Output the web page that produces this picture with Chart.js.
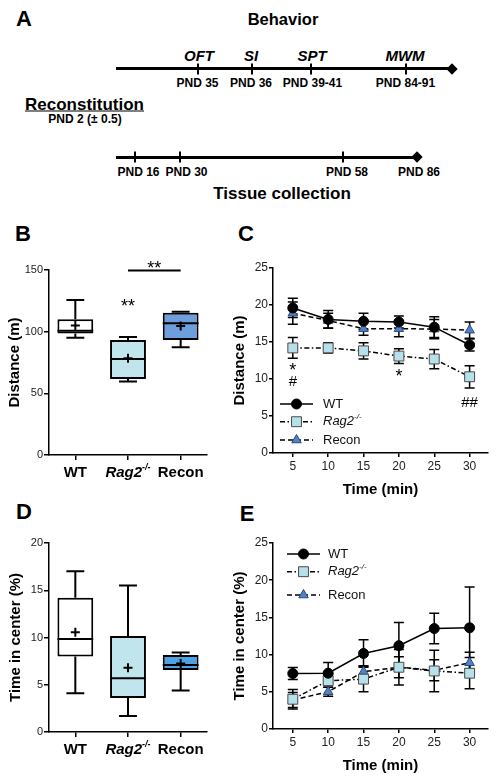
<!DOCTYPE html>
<html>
<head>
<meta charset="utf-8">
<script src="https://cdn.jsdelivr.net/npm/chart.js@4.4.1/dist/chart.umd.min.js"></script>
<style>
html, body { margin: 0; padding: 0; background: #fff; }
#fig { position: relative; width: 496px; height: 784px; overflow: hidden; font-family: Arial, "Liberation Sans", sans-serif; color: #000; }
.t { position: absolute; transform: translate(-50%, -50%); line-height: 1; white-space: nowrap; font-weight: bold; }
.hl { position: absolute; height: 3px; background: #000; }
.tk { position: absolute; width: 2px; height: 11px; background: #000; transform: translate(-50%, -50%); }
.dm { position: absolute; width: 8px; height: 8px; background: #000; transform: translate(-50%, -50%) rotate(45deg); }
canvas { position: absolute; }
</style>
</head>
<body>
<div id="fig">
  <!-- panel A: timeline -->
  <div class="t" style="left:24px;top:19px;font-size:22px">A</div>
  <div class="t" style="left:283px;top:19px;font-size:16.5px">Behavior</div>

  <div class="t" style="left:199px;top:55px;font-size:15px;font-style:italic">OFT</div>
  <div class="t" style="left:251px;top:55px;font-size:15px;font-style:italic">SI</div>
  <div class="t" style="left:312px;top:55px;font-size:15px;font-style:italic">SPT</div>
  <div class="t" style="left:405px;top:55px;font-size:15px;font-style:italic">MWM</div>

  <div class="hl" style="left:116px;top:67px;width:334px"></div>
  <div class="dm" style="left:452px;top:68.5px"></div>
  <div class="tk" style="left:198px;top:68.5px"></div>
  <div class="tk" style="left:252px;top:68.5px"></div>
  <div class="tk" style="left:311px;top:68.5px"></div>
  <div class="tk" style="left:405.5px;top:68.5px"></div>

  <div class="t" style="left:197.5px;top:83px;font-size:12px">PND 35</div>
  <div class="t" style="left:251px;top:83px;font-size:12px">PND 36</div>
  <div class="t" style="left:312.5px;top:83px;font-size:12px">PND 39-41</div>
  <div class="t" style="left:405.5px;top:83px;font-size:12px">PND 84-91</div>

  <div class="t" style="left:84.5px;top:104px;font-size:17px;text-decoration:underline">Reconstitution</div>
  <div class="t" style="left:85px;top:118.5px;font-size:12px">PND 2 (± 0.5)</div>

  <div class="hl" style="left:116px;top:155.5px;width:299px"></div>
  <div class="dm" style="left:417px;top:157px"></div>
  <div class="tk" style="left:135px;top:157px"></div>
  <div class="tk" style="left:180px;top:157px"></div>
  <div class="tk" style="left:342.5px;top:157px"></div>

  <div class="t" style="left:138.5px;top:171.5px;font-size:12px">PND 16</div>
  <div class="t" style="left:186.5px;top:171.5px;font-size:12px">PND 30</div>
  <div class="t" style="left:347px;top:171.5px;font-size:12px">PND 58</div>
  <div class="t" style="left:419px;top:171.5px;font-size:12px">PND 86</div>

  <div class="t" style="left:282px;top:193px;font-size:17px">Tissue collection</div>

  <!-- panel letters -->
  <div class="t" style="left:23px;top:234px;font-size:22px">B</div>
  <div class="t" style="left:246px;top:234px;font-size:22px">C</div>
  <div class="t" style="left:24px;top:512px;font-size:22px">D</div>
  <div class="t" style="left:247px;top:514px;font-size:22px">E</div>

  <canvas id="cB" width="215" height="223" style="left:0px;top:257px;width:215px;height:223px"></canvas>
  <canvas id="cC" width="270" height="245" style="left:226px;top:255px;width:270px;height:245px"></canvas>
  <canvas id="cD" width="215" height="227" style="left:0px;top:530px;width:215px;height:227px"></canvas>
  <canvas id="cE" width="270" height="246" style="left:226px;top:530px;width:270px;height:246px"></canvas>
</div>

<script>
const FONT = 'Arial, "Liberation Sans", sans-serif';

// ---- data ----
const groups = ['WT', 'Rag2-/-', 'Recon'];

// B: total distance (m), box plots
const distMin = [95, 59.5, 87.3];
const distQ1 = [98.6, 61.6, 93.2];
const distMedian = [100.8, 77.8, 106.8];
const distQ3 = [110, 93.2, 115.4];
const distMax = [125.7, 95.7, 116.2];
const distMean = [104.9, 78.4, 104.6];

// D: time in center (%), box plots
const centerMin = [4.1, 1.7, 4.4];
const centerQ1 = [8.0, 3.6, 6.55];
const centerMedian = [9.85, 5.7, 7.1];
const centerQ3 = [14.2, 10.15, 8.15];
const centerMax = [17.0, 15.5, 8.4];
const centerMean = [10.55, 6.8, 7.25];

// C / E: per 5-min bins
const timeBins = [5, 10, 15, 20, 25, 30];
const seriesNames = ['WT', 'Rag2-/-', 'Recon'];

const distWT = [19.6, 18.05, 17.8, 17.7, 17.0, 14.6];
const distWTErr = [1.3, 1.2, 1.1, 0.8, 1.4, 0.8];
const distRag2 = [14.2, 14.2, 13.8, 13.1, 12.7, 10.3];
const distRag2Err = [1.4, 0.7, 1.1, 1.0, 1.3, 1.5];
const distRecon = [18.9, 17.9, 16.8, 16.8, 16.75, 16.6];
const distReconErr = [1.5, 1.0, 0.9, 1.1, 1.3, 1.1];

const centerWT = [7.45, 7.5, 10.15, 11.2, 13.5, 13.6];
const centerWTErr = [0.8, 1.45, 1.85, 3.1, 2.05, 5.5];
const centerRag2 = [4.0, 6.5, 6.7, 8.3, 7.8, 7.5];
const centerRag2Err = [1.3, 0.9, 1.7, 2.4, 2.8, 2.1];
const centerRecon = [3.9, 5.0, 7.7, 8.3, 7.9, 8.9];
const centerReconErr = [1.0, 0.6, 0.8, 1.4, 1.4, 1.4];

// significance marks on C
const markX = [5, 5, 20, 30];
const markY = [11.7, 9.6, 10.8, 6.8];
const markText = ['*', '#', '*', '##'];

// significance on B
const sigRag2Y = 123.5;
const sigBracketY = 149.5;
const sigBracketTextY = 154;

Chart.defaults.font.family = FONT;
Chart.defaults.color = '#222';

// ---- helpers ----
function nameParts(name, size, weight) {
  if (name === 'Rag2-/-') {
    return [
      ['Rag2', 'italic ' + weight + ' ' + size + 'px ' + FONT, 0],
      ['-/-', 'italic ' + weight + ' ' + Math.round(size * 0.6) + 'px ' + FONT, -size * 0.38]
    ];
  }
  return [[name, weight + ' ' + size + 'px ' + FONT, 0]];
}

function richText(ctx, parts, x, y, align) {
  let w = 0;
  parts.forEach(p => { ctx.font = p[1]; w += ctx.measureText(p[0]).width; });
  let cx = align === 'left' ? x : x - w / 2;
  ctx.textAlign = 'left';
  ctx.textBaseline = 'middle';
  parts.forEach(p => {
    ctx.font = p[1];
    ctx.fillText(p[0], cx, y + p[2]);
    cx += ctx.measureText(p[0]).width;
  });
}

function makeBoxPlugin(s) {
  return {
    id: 'boxParts',
    afterDatasetsDraw(chart) {
      const { ctx } = chart;
      const xs = chart.scales.x, ys = chart.scales.y;
      const meta = chart.getDatasetMeta(0);
      const py = v => ys.getPixelForValue(v);
      ctx.save();
      ctx.strokeStyle = '#000';
      ctx.lineWidth = 2;
      s.min.forEach((_, i) => {
        const x = xs.getPixelForValue(i);
        const bw = meta.data[i].width;
        ctx.beginPath();
        ctx.moveTo(x, py(s.q3[i])); ctx.lineTo(x, py(s.max[i]));
        ctx.moveTo(x, py(s.q1[i])); ctx.lineTo(x, py(s.min[i]));
        ctx.moveTo(x - bw / 4, py(s.max[i])); ctx.lineTo(x + bw / 4, py(s.max[i]));
        ctx.moveTo(x - bw / 4, py(s.min[i])); ctx.lineTo(x + bw / 4, py(s.min[i]));
        ctx.moveTo(x - bw / 2, py(s.med[i])); ctx.lineTo(x + bw / 2, py(s.med[i]));
        ctx.stroke();
        const my = py(s.mean[i]);
        ctx.beginPath();
        ctx.moveTo(x - 4.5, my); ctx.lineTo(x + 4.5, my);
        ctx.moveTo(x, my - 4.5); ctx.lineTo(x, my + 4.5);
        ctx.stroke();
      });
      ctx.restore();
    }
  };
}

const groupLabelPlugin = {
  id: 'groupLabels',
  afterDraw(chart) {
    const { ctx } = chart;
    const xs = chart.scales.x;
    ctx.save();
    ctx.fillStyle = '#000';
    groups.forEach((g, i) => {
      richText(ctx, nameParts(g, 15, 'bold'), xs.getPixelForValue(i), xs.top + 18, 'center');
    });
    ctx.restore();
  }
};

function makeErrPlugin(errs) {
  return {
    id: 'errBars',
    beforeDatasetsDraw(chart) {
      const { ctx } = chart;
      const xs = chart.scales.x, ys = chart.scales.y;
      ctx.save();
      ctx.strokeStyle = '#000';
      ctx.lineWidth = 1.5;
      chart.data.datasets.forEach((ds, d) => {
        ds.data.forEach((p, i) => {
          const x = xs.getPixelForValue(p.x);
          const y1 = ys.getPixelForValue(p.y + errs[d][i]);
          const y2 = ys.getPixelForValue(p.y - errs[d][i]);
          ctx.beginPath();
          ctx.moveTo(x, y1); ctx.lineTo(x, y2);
          ctx.moveTo(x - 5, y1); ctx.lineTo(x + 5, y1);
          ctx.moveTo(x - 5, y2); ctx.lineTo(x + 5, y2);
          ctx.stroke();
        });
      });
      ctx.restore();
    }
  };
}

function makeLegend(pos) {
  return {
    id: 'lineLegend',
    afterDraw(chart) {
      const { ctx, chartArea: a } = chart;
      chart.data.datasets.forEach((ds, i) => {
        const y = a.top + pos.ys[i];
        const x0 = a.left + pos.x0, x1 = a.left + pos.x1;
        ctx.save();
        ctx.strokeStyle = '#000';
        ctx.lineWidth = 1.5;
        ctx.setLineDash(ds.borderDash || []);
        ctx.beginPath(); ctx.moveTo(x0, y); ctx.lineTo(x1, y); ctx.stroke();
        ctx.setLineDash([]);
        ctx.fillStyle = ds.pointBackgroundColor;
        ctx.strokeStyle = ds.pointBorderColor;
        ctx.lineWidth = ds.pointBorderWidth;
        Chart.helpers.drawPoint(ctx, { pointStyle: ds.pointStyle, radius: ds.pointRadius, borderWidth: ds.pointBorderWidth, rotation: 0 }, (x0 + x1) / 2, y);
        ctx.fillStyle = '#111';
        richText(ctx, nameParts(seriesNames[i], 13, 'normal'), a.left + pos.tx, y, 'left');
        ctx.restore();
      });
    }
  };
}

const marksPlugin = {
  id: 'marks',
  afterDraw(chart) {
    const { ctx } = chart;
    const xs = chart.scales.x, ys = chart.scales.y;
    ctx.save();
    ctx.fillStyle = '#000';
    ctx.textAlign = 'center';
    ctx.textBaseline = 'middle';
    markText.forEach((t, i) => {
      const star = t.indexOf('*') >= 0;
      const size = star ? 18 : 15;
      ctx.font = size + 'px ' + FONT;
      ctx.fillText(t, xs.getPixelForValue(markX[i]), ys.getPixelForValue(markY[i]) + (star ? size * 0.24 : 0));
    });
    ctx.restore();
  }
};

const sigPlugin = {
  id: 'sigB',
  afterDraw(chart) {
    const { ctx } = chart;
    const xs = chart.scales.x, ys = chart.scales.y;
    ctx.save();
    ctx.fillStyle = '#000';
    ctx.strokeStyle = '#000';
    ctx.textAlign = 'center';
    ctx.textBaseline = 'middle';
    ctx.font = '18px ' + FONT;
    ctx.fillText('**', xs.getPixelForValue(1), ys.getPixelForValue(sigRag2Y) + 4.3);
    ctx.lineWidth = 2;
    const by = ys.getPixelForValue(sigBracketY);
    ctx.beginPath();
    ctx.moveTo(xs.getPixelForValue(1), by);
    ctx.lineTo(xs.getPixelForValue(2), by);
    ctx.stroke();
    ctx.fillText('**', (xs.getPixelForValue(1) + xs.getPixelForValue(2)) / 2, ys.getPixelForValue(sigBracketTextY) + 4.3);
    ctx.restore();
  }
};

function yAxis(max, step, title, width, titlePad, tickLen, tickSize) {
  return {
    min: 0, max: max,
    ticks: { stepSize: step, padding: 1, color: '#222', font: { size: tickSize } },
    grid: { drawOnChartArea: false, tickLength: tickLen, color: '#000', lineWidth: 1.5 },
    border: { color: '#000', width: 1.5 },
    title: { display: true, text: title, color: '#000', font: { size: 15, weight: 'bold' }, padding: { top: titlePad, bottom: 0 } },
    afterFit(s) { s.width = width; }
  };
}

function boxChart(id, s, fill, ymax, ystep, ytitle, titlePad, extra) {
  return new Chart(document.getElementById(id), {
    type: 'bar',
    data: {
      labels: groups,
      datasets: [{
        data: groups.map((g, i) => [s.q1[i], s.q3[i]]),
        backgroundColor: fill,
        borderColor: '#000',
        borderWidth: 2,
        borderSkipped: false,
        barPercentage: 0.68,
        categoryPercentage: 1
      }]
    },
    options: {
      responsive: false,
      maintainAspectRatio: false,
      animation: false,
      layout: { padding: { top: 13, right: 8, left: 0, bottom: 0 } },
      plugins: { legend: { display: false }, tooltip: { enabled: false } },
      scales: {
        x: {
          ticks: { callback: () => '' },
          grid: { offset: false, drawOnChartArea: false, tickLength: 5, color: '#000', lineWidth: 1.5 },
          border: { color: '#000', width: 1.5 },
          afterFit(sc) { sc.height = 25; }
        },
        y: yAxis(ymax, ystep, ytitle, 49, titlePad, 5, 11)
      }
    },
    plugins: [makeBoxPlugin(s), groupLabelPlugin].concat(extra)
  });
}

function lineChart(id, series, errs, ytitle, legendPos, extra) {
  const looks = [
    { pointStyle: 'circle', pointRadius: 5, pointBackgroundColor: '#000', pointBorderColor: '#000', pointBorderWidth: 1, borderDash: [] },
    { pointStyle: 'rect', pointRadius: 7, pointBackgroundColor: '#b7e1ea', pointBorderColor: '#4a4a4a', pointBorderWidth: 1, borderDash: [5, 2.5, 1.5, 2.5] },
    { pointStyle: 'triangle', pointRadius: 5.5, pointBackgroundColor: '#4f82c8', pointBorderColor: '#2a4b7a', pointBorderWidth: 1, borderDash: [5, 3] }
  ];
  return new Chart(document.getElementById(id), {
    type: 'line',
    data: {
      datasets: series.map((vals, d) => Object.assign({
        label: seriesNames[d],
        data: timeBins.map((t, i) => ({ x: t, y: vals[i] })),
        borderColor: '#000',
        borderWidth: 1.5,
        fill: false,
        tension: 0,
        clip: false
      }, looks[d]))
    },
    options: {
      responsive: false,
      maintainAspectRatio: false,
      animation: false,
      layout: { padding: { top: 13, right: 8, left: 0, bottom: 0 } },
      plugins: { legend: { display: false }, tooltip: { enabled: false } },
      scales: {
        x: {
          type: 'linear', min: 2.2, max: 32.6,
          afterBuildTicks(sc) { sc.ticks = timeBins.map(v => ({ value: v })); },
          ticks: { padding: 2, color: '#222', font: { size: 12 } },
          grid: { drawOnChartArea: false, tickLength: 4, color: '#000', lineWidth: 1.5 },
          border: { color: '#000', width: 1.5 },
          title: { display: true, text: 'Time (min)', color: '#000', font: { size: 15, weight: 'bold' }, padding: { top: 0, bottom: 1 } },
          afterFit(sc) { sc.height = 47; }
        },
        y: yAxis(25, 5, ytitle, 47, 5, 4, 12)
      }
    },
    plugins: [makeErrPlugin(errs), makeLegend(legendPos)].concat(extra)
  });
}

boxChart('cB',
  { min: distMin, q1: distQ1, med: distMedian, q3: distQ3, max: distMax, mean: distMean },
  ['#ffffff', '#c0e5ec', '#6c9fdb'], 150, 50, 'Distance (m)', 6, [sigPlugin]);

boxChart('cD',
  { min: centerMin, q1: centerQ1, med: centerMedian, q3: centerQ3, max: centerMax, mean: centerMean },
  ['#ffffff', '#c0e5ec', '#4da2e3'], 20, 5, 'Time in center (%)', 7, []);

lineChart('cC', [distWT, distRag2, distRecon], [distWTErr, distRag2Err, distReconErr],
  'Distance (m)', { x0: 7, x1: 40, tx: 50, ys: [136, 153.7, 172] }, [marksPlugin]);

lineChart('cE', [centerWT, centerRag2, centerRecon], [centerWTErr, centerRag2Err, centerReconErr],
  'Time in center (%)', { x0: 14, x1: 47, tx: 55, ys: [11, 28.7, 52] }, []);
</script>
</body>
</html>
